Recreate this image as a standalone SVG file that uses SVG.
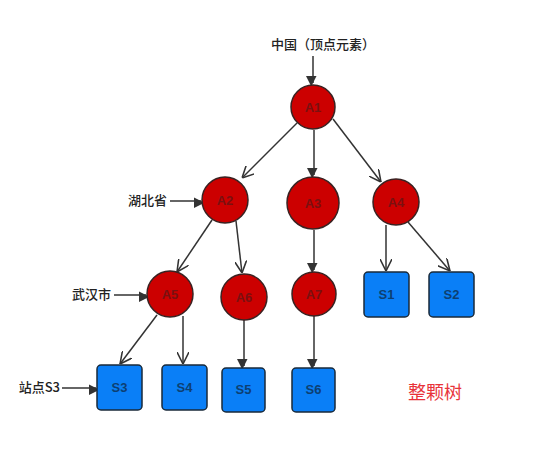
<svg xmlns="http://www.w3.org/2000/svg" width="541" height="455" viewBox="0 0 541 455">
<style>
.c{fill:#cc0000;stroke:#3a2222;stroke-width:1.5}
.s{fill:#0a7ff7;stroke:#1a2a3a;stroke-width:1.5}
.ct{font-family:"Liberation Sans",sans-serif;font-size:13px;font-weight:bold;fill:#7a1010;text-anchor:middle}
.st{font-family:"Liberation Sans",sans-serif;font-size:13px;font-weight:bold;fill:#0d3f73;text-anchor:middle}
.lb{font-family:"Noto Sans CJK SC","Liberation Sans",sans-serif;font-size:13px;font-weight:500;fill:#222}
.e{stroke:#333;stroke-width:1.5;fill:none}
</style>
<defs>
<marker id="f" viewBox="0 0 10 10" refX="10" refY="5" markerWidth="7" markerHeight="7" markerUnits="userSpaceOnUse" orient="auto" overflow="visible">
<path d="M0,0 L10,5 L0,10 Z" fill="#333" transform="scale(1.5)" />
</marker>
<marker id="o" viewBox="0 0 10 10" refX="10" refY="5" markerWidth="12" markerHeight="12" markerUnits="userSpaceOnUse" orient="auto">
<path d="M0,0 L10,5 L0,10" fill="none" stroke="#333" stroke-width="1.3" />
</marker>
</defs>
<g id="connectors">
<line class="e" x1="313" y1="56" x2="313" y2="83" marker-end="url(#f)"/>
<line class="e" x1="297" y1="123" x2="242" y2="178" marker-end="url(#o)"/>
<line class="e" x1="314" y1="130" x2="314" y2="175" marker-end="url(#f)"/>
<line class="e" x1="333" y1="119" x2="381" y2="182" marker-end="url(#o)"/>
<line class="e" x1="170" y1="201" x2="201" y2="201" marker-end="url(#f)"/>
<line class="e" x1="212" y1="220" x2="177" y2="272" marker-end="url(#o)"/>
<line class="e" x1="236" y1="221" x2="242" y2="273" marker-end="url(#o)"/>
<line class="e" x1="314" y1="230" x2="314" y2="270" marker-end="url(#f)"/>
<line class="e" x1="386" y1="225" x2="386" y2="271" marker-end="url(#o)"/>
<line class="e" x1="408" y1="222" x2="450" y2="271" marker-end="url(#o)"/>
<line class="e" x1="114" y1="295" x2="146" y2="295" marker-end="url(#f)"/>
<line class="e" x1="157" y1="315" x2="120" y2="364" marker-end="url(#o)"/>
<line class="e" x1="183" y1="316" x2="183" y2="364" marker-end="url(#o)"/>
<line class="e" x1="244" y1="320" x2="244" y2="366" marker-end="url(#f)"/>
<line class="e" x1="314" y1="316" x2="314" y2="366" marker-end="url(#f)"/>
<line class="e" x1="62" y1="388" x2="96" y2="388" marker-end="url(#f)"/>
</g>
<g id="label-china"><text class="lb" x="323" y="49" text-anchor="middle">中国（顶点元素）</text></g>
<g id="label-hubei"><text class="lb" x="167" y="205" text-anchor="end">湖北省</text></g>
<g id="label-wuhan"><text class="lb" x="111" y="299" text-anchor="end">武汉市</text></g>
<g id="label-s3"><text class="lb" x="60" y="392" text-anchor="end">站点S3</text></g>
<g id="label-tree"><text x="435" y="399" text-anchor="middle" style="font-family:'Noto Sans CJK SC',sans-serif;font-size:18px;fill:#e8333a">整颗树</text></g>
<g id="A1"><circle class="c" cx="313" cy="107" r="22"/><text class="ct" x="313" y="112">A1</text></g>
<g id="A2"><circle class="c" cx="225" cy="200" r="23"/><text class="ct" x="225" y="205">A2</text></g>
<g id="A3"><circle class="c" cx="313" cy="203" r="26"/><text class="ct" x="313" y="208">A3</text></g>
<g id="A4"><circle class="c" cx="396" cy="202" r="23"/><text class="ct" x="396" y="207">A4</text></g>
<g id="A5"><circle class="c" cx="170" cy="294" r="23"/><text class="ct" x="170" y="299">A5</text></g>
<g id="A6"><circle class="c" cx="244" cy="297" r="23"/><text class="ct" x="244" y="302">A6</text></g>
<g id="A7"><circle class="c" cx="314" cy="294" r="22"/><text class="ct" x="314" y="299">A7</text></g>
<g id="S1"><rect class="s" x="364" y="272" width="45" height="45" rx="4"/><text class="st" x="386.5" y="299">S1</text></g>
<g id="S2"><rect class="s" x="429" y="272" width="45" height="45" rx="4"/><text class="st" x="451.5" y="299">S2</text></g>
<g id="S3"><rect class="s" x="97" y="365" width="45" height="45" rx="4"/><text class="st" x="119.5" y="392">S3</text></g>
<g id="S4"><rect class="s" x="162" y="365" width="45" height="45" rx="4"/><text class="st" x="184.5" y="392">S4</text></g>
<g id="S5"><rect class="s" x="222" y="368" width="43" height="44" rx="4"/><text class="st" x="243.5" y="394">S5</text></g>
<g id="S6"><rect class="s" x="292" y="368" width="43" height="44" rx="4"/><text class="st" x="313.5" y="394">S6</text></g>
</svg>
